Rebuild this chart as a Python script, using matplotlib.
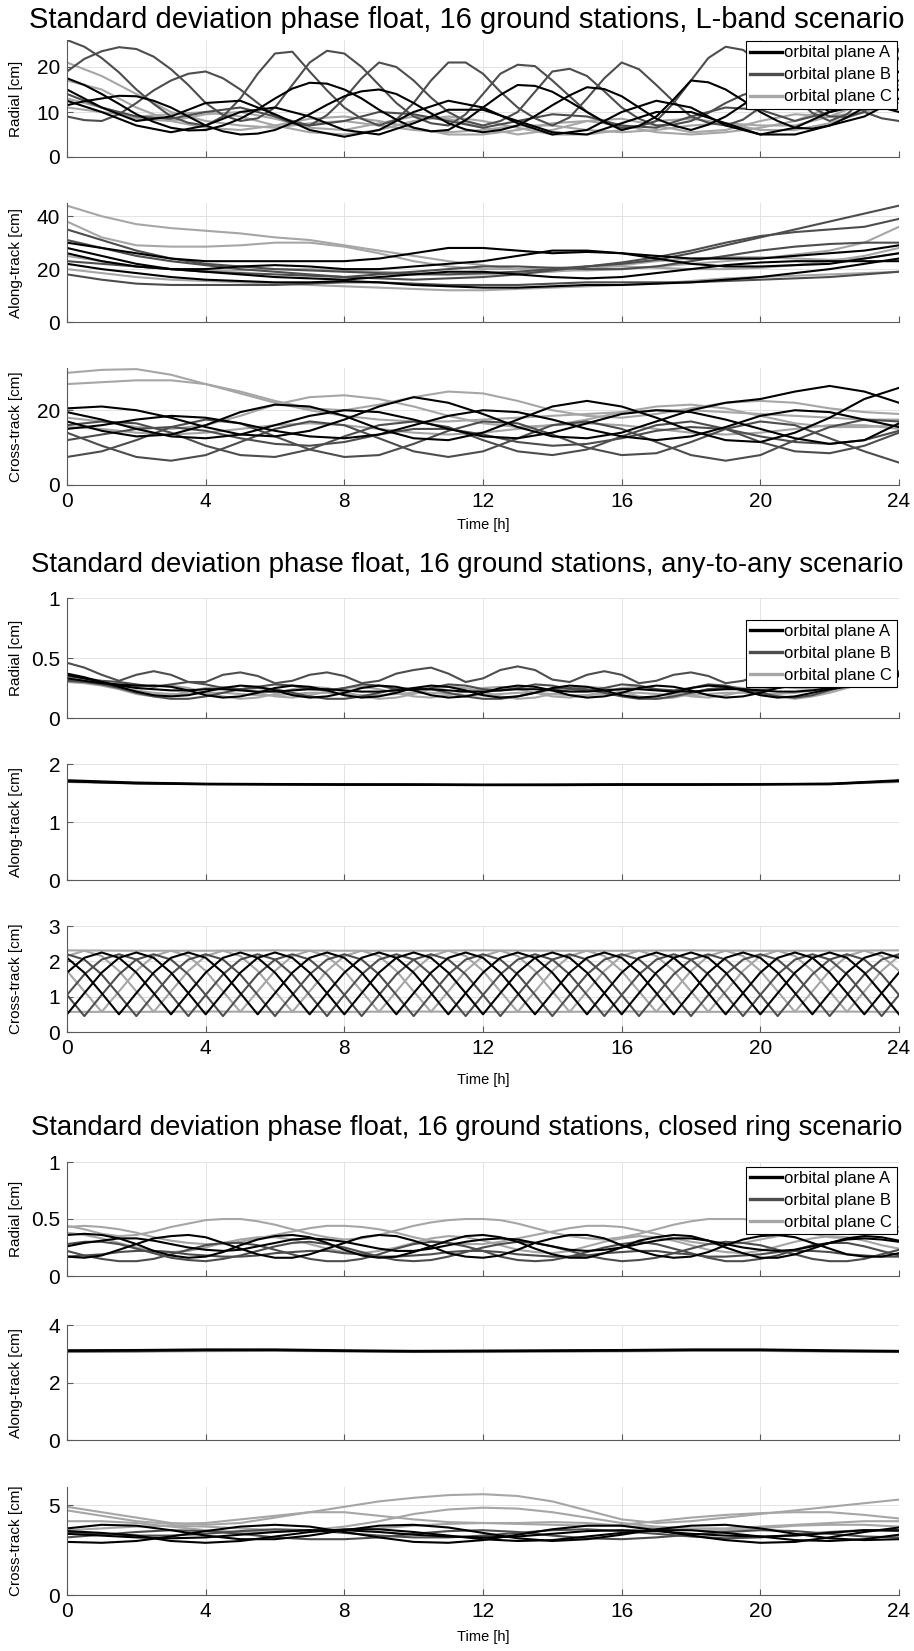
import numpy as np
import matplotlib
matplotlib.use("Agg")
import matplotlib.pyplot as plt
from matplotlib.lines import Line2D

plt.rcParams['font.family'] = ['Liberation Sans', 'DejaVu Sans']

# ---------------- data ----------------
TITLES = [
    "Standard deviation phase float, 16 ground stations, L-band scenario",
    "Standard deviation phase float, 16 ground stations, any-to-any scenario",
    "Standard deviation phase float, 16 ground stations, closed ring scenario",
]
PLANES = ["orbital plane A", "orbital plane B", "orbital plane C"]
XTICKS = [0, 4, 8, 12, 16, 20, 24]

# L-band (half-hour samples for the fast curves, hourly for the rest)
RAD_L_A = [
    [17.5,16,14,11.8,9.5,7.8,6.5,5.9, 6,7,8.5,10.6,13,15.2,16.5,16.3,
     15,13,10.5,8.3,6.5,5.7,6,8.2, 11,13.8,16,15.8,14.5,12.3,10,7.8,
     6,6.9,9,12.8,17,16.6,15,12.6, 10,8,6.5,6.3,7,8.8,11,13.2, 15],
    [11.5,12.4,13,13.6,13.5,12.5,11,9, 7,5.7,5,5.2,6,7.6,9.5,11.6,
     13.5,14.6,15,14,12,9.7,7.5,6.1, 5.5,6,7,9.1,11.5,13.7,15.5,15.1,
     13.5,11,8.5,7,6,7.2,9,11.6, 14,14.8,14.5,12.5,10,10.8,13,16, 19],
    [15,11,8,9,12,12.5,9.5,6,4.5,6,10,12.5,11,7.5,5,6,10,12.5,11,7,5,6.5,10,12,10],
    [12.5,10,7,5.5,7,10,11,9,6,5,7.5,10.5,10.5,8,5.5,5,7.5,10,10,7.5,5,5,7,9,13],
]
RAD_L_B = [
    [19,21.8,23.5,24.4,24,22.3,19.5,16, 12,9.3,8,8.6,11,16,21,23.6,
     23,20,16,12,9,7.5,7,9.5, 14,18.5,20.5,20.2,17,13.5,10,7.6,
     6.5,6.8,8,12,17,22,24.5,23.8, 21,17,13,9.8,8,9.5,13,17.5, 22],
    [26,24.5,22,18.8,15,11.8,9,7.6, 7,9,13,18.5,23,23.4,19,14.8,
     11,8.5,7,8.3,12,17,21,21, 18.5,14.5,11,8.6,7,8.8,13,17.5,
     21,19.5,16,12.3,9,7.6,7,8.3, 11,16.5,21.5,21,18,14,10,8.6, 8],
    [9,8.2,8,9.5,12,14.8,17,18.5, 19,17.5,15,12,9,7.5,7,9.3,
     13,17.5,21,20,17,13.2,10,8, 7,8,10,14.5,19,19.6,18,14.6,
     11,8.5,7,7.2,8,9.8,12,13.8, 15,14.6,13,11,9,8.9,10,15.5, 24],
    [14,11,9,8.5,10,11,9,7,8,10,9.5,8,6.5,8,9.5,9,7,6.5,9,11,10.5,8,10,13,17],
]
RAD_L_C = [
    [21,18,14,10,8,7,6.5,7.5,8,7,6,5.5,6,7,7,6,5.5,6,7,7.5,7,7,9,12,16],
    [13,11,8.5,8,9.5,10,8.5,6.5,6,7.5,9,8.5,6.5,5,6,8,8.5,7,5.5,6,8,9.5,9,10,13],
    [17,15,11,8,6.5,6,7,8.5,9,8,6.5,5,5,6,7.5,8,7,5.5,5,5.5,6.5,8,11,14,15],
    [11,10,9,9.5,10,9,7,5.5,5,6,8,9,8,6.5,5,5,6,8,8.5,7.5,6,6,7.5,10,12],
]
ALONG_L_A = [
    [30,28,26,24,23,23,23,23,23,24,26,28,28,27,26,26.5,26,25,24,24,24,25,26,27,29],
    [26,23,21,20,20,21,21.5,21,20,20,21,22,23,25,27,27,26,24,22,21,21,21.5,22,24,26],
    [22,20,18.5,17,16,15.5,15,15,15.5,15,14,13.5,13,13,13.5,14,14,14.5,15,16,17,18.5,20,22,24],
    [28,25,22,20,19,18,17,16.5,16,17,18,19,19,18,17,16.5,17,18.5,20,21.5,22.5,23,23,23,23],
]
ALONG_L_B = [
    [35,31,27,24,22,21,20,19.5,19,18.5,18,18,18.5,19,20,21,22,23.5,26,29,32,35,38,41,44],
    [31,28,25,23,21.5,20,19,18,17,16.5,16,16.5,17,18,19.5,21,22.5,24.5,27,30,32.5,34,35,36,39],
    [18,16,14.5,14,14,14,14,14.5,15,15,14.5,14,14,14,14.5,15,15,15,15,15.5,16,16.5,17,18,19],
    [23,22,21,20,19,18.5,18,17.5,17,18,19,20,21,21,20.5,20,20,21,23,25,27,28.5,29.5,30,30],
]
ALONG_L_C = [
    [44,40,37,35.5,34.5,33.5,32,31,29,27,25,23,21.5,20,19.5,19.5,20,21,22,23,24,25.5,27,30,36],
    [38,32,29,28.5,28.5,29,30,30,28.5,26,23,21,20,20,20.5,21,21,20.5,20,20,20.5,21.5,23,25,28],
    [20,18.5,17,16,15.5,15,14.5,14,13.5,13,12.5,12,12,12.5,13,13.5,14,14.5,15.5,16.5,17,17.5,18,18.5,19],
    [25,23,21,20,19.5,19.5,20,20,19.5,19,18.5,18,18,18.5,19,20,21.5,23,24,24.5,24.5,24,23.5,24,26],
]
CROSS_L_A = [
    [20.5,21,20,18,15.5,13.5,13,14.5,17.5,21,23.5,22,19,15.5,13,12.5,14,17,20,22,23,25,26.5,25,22],
    [17,14.5,13,13.5,16,19.5,21.5,21,18.5,15,12.5,12,14,17.5,21,22.5,21,18,14.5,12,11.5,14,18,23,26],
    [15,16,17.5,18.5,18,16.5,14.5,13,12.5,13.5,16,18.5,20,19.5,17.5,15,13,12,13,15.5,18.5,20,19.5,17.5,15.5],
    [19.5,17.5,15,13,12.5,13.5,16,18.5,20,19.5,17.5,15,13,12.5,14,16.5,19,20,19.5,17.5,15,12.5,11,12,16.5],
]
CROSS_L_B = [
    [7.5,9,12,15.5,17.5,16.5,13,9.5,7.5,8,11,14.5,17,16.5,13.5,10,8,8.5,11.5,15,17,16,12.5,9,6],
    [14,10.5,7.5,6.5,8,11.5,15,17,16,12.5,9,7.5,9,12.5,16,17,15,11.5,8,6.5,8,12,15.5,17.5,17],
    [16,17,16.5,14,10.5,8,7.5,9.5,13,16,17,15.5,12,9,8,9.5,13,16,17,15,11.5,9,8.5,10.5,14],
    [12,13.5,15,15.5,14.5,12.5,11,10.5,11.5,13.5,15,15,13.5,11.5,10.5,11,12.5,14.5,15.5,15,13,11.5,11,12,14.5],
]
CROSS_L_C = [
    [30,30.8,31,29.5,27,24.5,22,20,18.5,17.5,17,17,17.5,18,18.5,19,19.5,20,20,19.5,19,18.5,18,17.5,17.5],
    [27,27.5,28,28,27,25,22.5,20.5,20,21.5,23.5,25,24.5,22.5,20,18.5,18,19,20.5,22,22.5,22,20.5,19.5,19],
    [18,17,15.5,15,16,18.5,21.5,23.5,24,23,21,18.5,16.5,15.5,16,17.5,19.5,21,21.5,20.5,18.5,16.5,15.5,15.5,16],
    [15.5,15,14,13.5,14,15,16,16.5,16,15,14,13.5,14,15,16,16.5,16,15,14,13.5,14,15,16,16,15],
]

# any-to-any, half-hour samples (along-track: 2 h samples)
RAD_AA_A = [
    [0.37,0.34,0.30,0.26,0.22,0.19,0.18,0.19, 0.22,0.25,0.27,0.26,0.23,0.19,0.17,0.18,
     0.21,0.25,0.27,0.26,0.23,0.19,0.17,0.18, 0.21,0.25,0.27,0.26,0.23,0.19,0.17,0.18,
     0.21,0.25,0.27,0.26,0.23,0.19,0.17,0.18, 0.21,0.25,0.27,0.27,0.26,0.26,0.28,0.32, 0.37],
    [0.33,0.31,0.29,0.28,0.27,0.27,0.26,0.23, 0.19,0.17,0.18,0.21,0.25,0.27,0.26,0.23,
     0.19,0.17,0.18,0.21,0.25,0.27,0.26,0.23, 0.19,0.17,0.18,0.21,0.25,0.27,0.26,0.23,
     0.19,0.17,0.18,0.21,0.25,0.27,0.26,0.23, 0.19,0.17,0.18,0.21,0.24,0.26,0.29,0.32, 0.35],
    [0.36,0.33,0.30,0.27,0.25,0.24,0.23,0.23, 0.24,0.24,0.23,0.22,0.22,0.23,0.24,0.24,
     0.23,0.22,0.22,0.23,0.24,0.24,0.23,0.22, 0.22,0.23,0.24,0.24,0.23,0.22,0.22,0.23,
     0.24,0.24,0.23,0.22,0.22,0.23,0.24,0.24, 0.23,0.22,0.22,0.23,0.25,0.27,0.30,0.33, 0.36],
]
RAD_AA_B = [
    [0.46,0.42,0.36,0.31,0.36,0.39,0.36,0.30, 0.30,0.36,0.38,0.35,0.29,0.31,0.36,0.38,
     0.35,0.29,0.31,0.37,0.40,0.42,0.37,0.30, 0.33,0.40,0.43,0.40,0.32,0.30,0.36,0.39,
     0.36,0.29,0.31,0.36,0.38,0.35,0.29,0.31, 0.36,0.38,0.35,0.29,0.32,0.37,0.38,0.35, 0.38],
    [0.31,0.30,0.28,0.25,0.21,0.18,0.16,0.16, 0.18,0.21,0.24,0.25,0.24,0.21,0.18,0.16,
     0.16,0.18,0.21,0.24,0.25,0.24,0.21,0.18, 0.16,0.16,0.18,0.21,0.24,0.25,0.24,0.21,
     0.18,0.16,0.16,0.18,0.21,0.24,0.25,0.24, 0.21,0.18,0.17,0.19,0.23,0.27,0.31,0.35, 0.39],
    [0.35,0.33,0.31,0.30,0.28,0.26,0.28,0.30, 0.28,0.25,0.24,0.26,0.28,0.27,0.24,0.23,
     0.25,0.28,0.27,0.24,0.23,0.25,0.28,0.27, 0.24,0.23,0.25,0.28,0.27,0.24,0.23,0.25,
     0.28,0.27,0.24,0.23,0.25,0.28,0.27,0.24, 0.23,0.25,0.28,0.27,0.26,0.28,0.31,0.34, 0.37],
]
RAD_AA_C = [
    [0.32,0.31,0.29,0.27,0.26,0.27,0.27,0.25, 0.21,0.18,0.16,0.17,0.20,0.24,0.26,0.25,
     0.22,0.18,0.16,0.17,0.20,0.24,0.26,0.25, 0.22,0.18,0.16,0.17,0.20,0.24,0.26,0.25,
     0.22,0.18,0.16,0.17,0.20,0.24,0.26,0.25, 0.22,0.18,0.16,0.18,0.21,0.25,0.29,0.32, 0.35],
    [0.30,0.29,0.27,0.24,0.20,0.18,0.19,0.22, 0.25,0.26,0.24,0.21,0.18,0.17,0.19,0.22,
     0.25,0.26,0.24,0.21,0.18,0.17,0.19,0.22, 0.25,0.26,0.24,0.21,0.18,0.17,0.19,0.22,
     0.25,0.26,0.24,0.21,0.18,0.17,0.19,0.22, 0.25,0.26,0.25,0.24,0.25,0.27,0.30,0.33, 0.36],
    [0.34,0.31,0.28,0.25,0.23,0.21,0.20,0.20, 0.21,0.21,0.20,0.19,0.19,0.20,0.21,0.21,
     0.20,0.19,0.19,0.20,0.21,0.21,0.20,0.19, 0.19,0.20,0.21,0.21,0.20,0.19,0.19,0.20,
     0.21,0.21,0.20,0.19,0.19,0.20,0.21,0.21, 0.20,0.20,0.21,0.23,0.25,0.28,0.31,0.34, 0.37],
]
ALONG_AA_A = [[1.72,1.68,1.66,1.655,1.65,1.65,1.645,1.645,1.65,1.65,1.65,1.66,1.72],
              [1.70,1.665,1.65,1.645,1.64,1.64,1.635,1.635,1.64,1.64,1.645,1.65,1.71]]
ALONG_AA_B = [[1.70,1.67,1.655,1.65,1.65,1.645,1.64,1.645,1.65,1.65,1.655,1.66,1.70]]
ALONG_AA_C = [[1.69,1.665,1.65,1.645,1.645,1.64,1.64,1.64,1.645,1.645,1.65,1.655,1.69]]
CROSS_AA_A = [
    [0.50,1.10,1.68,2.10,2.25,2.10,1.68,1.10, 0.50,1.10,1.68,2.10,2.25,2.10,1.68,1.10,
     0.50,1.10,1.68,2.10,2.25,2.10,1.68,1.10, 0.50,1.10,1.68,2.10,2.25,2.10,1.68,1.10,
     0.50,1.10,1.68,2.10,2.25,2.10,1.68,1.10, 0.50,1.10,1.68,2.10,2.25,2.10,1.68,1.10, 0.50],
    [1.68,2.10,2.25,2.10,1.68,1.10,0.50,1.10, 1.68,2.10,2.25,2.10,1.68,1.10,0.50,1.10,
     1.68,2.10,2.25,2.10,1.68,1.10,0.50,1.10, 1.68,2.10,2.25,2.10,1.68,1.10,0.50,1.10,
     1.68,2.10,2.25,2.10,1.68,1.10,0.50,1.10, 1.68,2.10,2.25,2.10,1.68,1.10,0.50,1.10, 1.68],
    [2.10,1.68,1.10,0.50,1.10,1.68,2.10,2.25, 2.10,1.68,1.10,0.50,1.10,1.68,2.10,2.25,
     2.10,1.68,1.10,0.50,1.10,1.68,2.10,2.25, 2.10,1.68,1.10,0.50,1.10,1.68,2.10,2.25,
     2.10,1.68,1.10,0.50,1.10,1.68,2.10,2.25, 2.10,1.68,1.10,0.50,1.10,1.68,2.10,2.25, 2.10],
]
CROSS_AA_B = [
    [2.20,2.05,1.63,1.05,0.45,1.05,1.63,2.05, 2.20,2.05,1.63,1.05,0.45,1.05,1.63,2.05,
     2.20,2.05,1.63,1.05,0.45,1.05,1.63,2.05, 2.20,2.05,1.63,1.05,0.45,1.05,1.63,2.05,
     2.20,2.05,1.63,1.05,0.45,1.05,1.63,2.05, 2.20,2.05,1.63,1.05,0.45,1.05,1.63,2.05, 2.20],
    [1.05,1.63,2.05,2.20,2.05,1.63,1.05,0.45, 1.05,1.63,2.05,2.20,2.05,1.63,1.05,0.45,
     1.05,1.63,2.05,2.20,2.05,1.63,1.05,0.45, 1.05,1.63,2.05,2.20,2.05,1.63,1.05,0.45,
     1.05,1.63,2.05,2.20,2.05,1.63,1.05,0.45, 1.05,1.63,2.05,2.20,2.05,1.63,1.05,0.45, 1.05],
    [1.05,0.45,1.05,1.63,2.05,2.20,2.05,1.63, 1.05,0.45,1.05,1.63,2.05,2.20,2.05,1.63,
     1.05,0.45,1.05,1.63,2.05,2.20,2.05,1.63, 1.05,0.45,1.05,1.63,2.05,2.20,2.05,1.63,
     1.05,0.45,1.05,1.63,2.05,2.20,2.05,1.63, 1.05,0.45,1.05,1.63,2.05,2.20,2.05,1.63, 1.05],
]
CROSS_AA_C = [
    [2.15,2.30,2.15,1.73,1.15,0.57,1.15,1.73, 2.15,2.30,2.15,1.73,1.15,0.57,1.15,1.73,
     2.15,2.30,2.15,1.73,1.15,0.57,1.15,1.73, 2.15,2.30,2.15,1.73,1.15,0.57,1.15,1.73,
     2.15,2.30,2.15,1.73,1.15,0.57,1.15,1.73, 2.15,2.30,2.15,1.73,1.15,0.57,1.15,1.73, 2.15],
    [1.73,1.15,0.57,1.15,1.73,2.15,2.30,2.15, 1.73,1.15,0.57,1.15,1.73,2.15,2.30,2.15,
     1.73,1.15,0.57,1.15,1.73,2.15,2.30,2.15, 1.73,1.15,0.57,1.15,1.73,2.15,2.30,2.15,
     1.73,1.15,0.57,1.15,1.73,2.15,2.30,2.15, 1.73,1.15,0.57,1.15,1.73,2.15,2.30,2.15, 1.73],
    [2.31,2.30,2.30,2.31,2.30,2.30,2.31,2.30,2.30,2.31,2.30,2.30,2.31],
    [0.57,0.57,0.58,0.57,0.57,0.58,0.57,0.57,0.58,0.57,0.57,0.58,0.57],
]

# closed ring, half-hour samples (along-track 2 h, cross-track hourly)
RAD_CR_A = [
    [0.36,0.37,0.36,0.33,0.28,0.22,0.18,0.16, 0.17,0.21,0.27,0.32,0.35,0.36,0.34,0.29,
     0.23,0.18,0.16,0.17,0.21,0.26,0.31,0.35, 0.36,0.34,0.30,0.24,0.19,0.16,0.16,0.20,
     0.25,0.31,0.34,0.36,0.35,0.31,0.25,0.20, 0.16,0.16,0.19,0.24,0.29,0.33,0.35,0.34, 0.31],
    [0.17,0.16,0.18,0.23,0.28,0.33,0.35,0.36, 0.34,0.29,0.24,0.19,0.16,0.16,0.19,0.24,
     0.29,0.34,0.36,0.35,0.31,0.26,0.20,0.17, 0.16,0.18,0.23,0.29,0.33,0.36,0.36,0.33,
     0.27,0.22,0.18,0.16,0.17,0.21,0.27,0.32, 0.35,0.36,0.34,0.29,0.24,0.19,0.17,0.17, 0.20],
    [0.26,0.29,0.31,0.33,0.33,0.31,0.28,0.25, 0.23,0.22,0.23,0.26,0.29,0.32,0.33,0.32,
     0.30,0.27,0.24,0.22,0.22,0.24,0.27,0.30, 0.32,0.33,0.32,0.29,0.26,0.23,0.22,0.23,
     0.25,0.28,0.31,0.33,0.33,0.31,0.28,0.25, 0.23,0.22,0.23,0.26,0.29,0.32,0.33,0.32, 0.30],
]
RAD_CR_B = [
    [0.22,0.18,0.15,0.13,0.13,0.15,0.19,0.23, 0.27,0.29,0.29,0.27,0.23,0.19,0.15,0.13,
     0.13,0.15,0.19,0.24,0.28,0.30,0.29,0.26, 0.22,0.17,0.14,0.13,0.14,0.17,0.21,0.25,
     0.28,0.30,0.28,0.24,0.20,0.16,0.13,0.13, 0.15,0.18,0.23,0.27,0.29,0.29,0.26,0.22, 0.18],
    [0.28,0.30,0.30,0.28,0.24,0.20,0.16,0.14, 0.13,0.15,0.18,0.22,0.26,0.29,0.30,0.28,
     0.25,0.21,0.17,0.14,0.13,0.14,0.17,0.21, 0.25,0.28,0.30,0.29,0.26,0.22,0.18,0.15,
     0.13,0.14,0.16,0.20,0.24,0.28,0.30,0.29, 0.27,0.23,0.19,0.15,0.13,0.13,0.15,0.19, 0.23],
    [0.17,0.18,0.19,0.21,0.22,0.22,0.21,0.19, 0.18,0.17,0.17,0.18,0.20,0.21,0.22,0.22,
     0.20,0.19,0.17,0.17,0.18,0.19,0.21,0.22, 0.22,0.21,0.19,0.18,0.17,0.17,0.18,0.20,
     0.21,0.22,0.22,0.20,0.19,0.17,0.17,0.18, 0.19,0.21,0.22,0.22,0.21,0.19,0.18,0.17, 0.17],
]
RAD_CR_C = [
    [0.44,0.41,0.37,0.35,0.36,0.39,0.43,0.46, 0.49,0.50,0.50,0.48,0.45,0.41,0.37,0.34,
     0.32,0.33,0.36,0.40,0.44,0.47,0.49,0.50, 0.50,0.49,0.46,0.42,0.38,0.35,0.33,0.32,
     0.34,0.37,0.41,0.45,0.48,0.50,0.50,0.50, 0.48,0.45,0.41,0.37,0.34,0.33,0.35,0.39, 0.43],
    [0.43,0.44,0.43,0.41,0.38,0.34,0.31,0.29, 0.28,0.28,0.30,0.33,0.36,0.39,0.42,0.44,
     0.44,0.43,0.41,0.38,0.34,0.31,0.29,0.28, 0.28,0.30,0.33,0.36,0.39,0.42,0.44,0.44,
     0.43,0.40,0.37,0.33,0.30,0.28,0.28,0.29, 0.32,0.35,0.38,0.41,0.43,0.44,0.44,0.42, 0.39],
    [0.38,0.36,0.33,0.29,0.25,0.22,0.21,0.22, 0.25,0.29,0.32,0.34,0.34,0.32,0.28,0.24,
     0.21,0.20,0.22,0.25,0.29,0.33,0.35,0.34, 0.31,0.27,0.23,0.21,0.20,0.22,0.26,0.30,
     0.33,0.35,0.34,0.31,0.27,0.23,0.21,0.20, 0.22,0.26,0.30,0.33,0.35,0.34,0.31,0.27, 0.24],
]
ALONG_CR_A = [[3.10,3.11,3.13,3.13,3.10,3.08,3.09,3.10,3.11,3.13,3.13,3.10,3.08],
              [3.12,3.13,3.15,3.15,3.12,3.10,3.11,3.12,3.13,3.15,3.15,3.12,3.10]]
ALONG_CR_B = [[3.08,3.09,3.11,3.12,3.09,3.07,3.08,3.09,3.10,3.12,3.12,3.09,3.07]]
ALONG_CR_C = [[3.06,3.07,3.09,3.10,3.08,3.06,3.06,3.07,3.08,3.10,3.10,3.07,3.06]]
CROSS_CR_A = [
    [3.7,3.9,3.85,3.6,3.3,3.1,3.1,3.3,3.6,3.85,3.9,3.75,3.45,3.15,3.0,3.1,3.35,3.65,3.85,3.9,3.7,3.4,3.15,3.05,3.1],
    [2.95,2.9,3.0,3.25,3.55,3.8,3.9,3.8,3.5,3.2,2.95,2.9,3.05,3.35,3.65,3.85,3.85,3.6,3.3,3.05,2.9,2.95,3.2,3.5,3.75],
    [3.4,3.3,3.2,3.15,3.2,3.35,3.5,3.6,3.6,3.5,3.35,3.25,3.2,3.25,3.4,3.55,3.6,3.55,3.4,3.3,3.25,3.3,3.45,3.6,3.6],
    [3.55,3.45,3.3,3.0,2.9,3.0,3.25,3.5,3.65,3.65,3.5,3.3,3.1,3.0,3.05,3.25,3.45,3.6,3.6,3.45,3.25,3.05,3.0,3.1,3.35],
]
CROSS_CR_B = [
    [3.2,3.35,3.5,3.6,3.55,3.4,3.2,3.1,3.1,3.2,3.4,3.55,3.6,3.5,3.3,3.15,3.1,3.2,3.35,3.5,3.6,3.55,3.4,3.25,3.2],
    [3.5,3.4,3.3,3.3,3.4,3.55,3.65,3.6,3.45,3.3,3.2,3.2,3.3,3.45,3.6,3.65,3.55,3.4,3.25,3.15,3.2,3.35,3.5,3.6,3.55],
]
CROSS_CR_C = [
    [4.9,4.6,4.3,4.0,3.9,4.0,4.3,4.6,4.9,5.2,5.4,5.55,5.6,5.5,5.2,4.7,4.2,4.0,4.1,4.3,4.5,4.7,4.9,5.1,5.3],
    [4.7,4.4,4.1,3.95,4.0,4.2,4.4,4.6,4.6,4.4,4.2,4.05,4.0,3.95,3.9,3.85,3.9,4.1,4.3,4.45,4.55,4.6,4.6,4.45,4.25],
    [4.1,4.1,4.0,3.8,3.6,3.5,3.5,3.6,3.8,4.1,4.5,4.75,4.85,4.8,4.6,4.3,4.0,3.8,3.7,3.7,3.8,3.9,4.0,4.1,4.1],
    [3.6,3.7,3.8,3.85,3.8,3.7,3.6,3.55,3.6,3.7,3.85,3.95,4.0,4.0,4.05,4.0,3.85,3.7,3.6,3.6,3.7,3.85,3.9,3.9,3.8],
]

# ---------------- layout ----------------
W, H = 914, 1651
LEFT, RIGHT = 67, 899
COLORS = {"A": "#000000", "B": "#4d4d4d", "C": "#a6a6a6"}
SPINE = "#5a5a5a"
TITLE_SIZES = [21, 19.9, 19.8]

# (title y, [(top, bottom) per axes], xlabel y, legend top in axes fraction) in pixels
GROUPS = [
    (20, [(40, 157), (203, 322), (368, 485)], 525, 0.99),
    (565, [(598, 718), (764, 880), (926, 1032)], 1080, 0.82),
    (1128, [(1162, 1276), (1325, 1440), (1487, 1595)], 1637, 0.96),
]

PANELS = [
    [("Radial [cm]", 26, [0, 10, 20], ["0", "10", "20"], (RAD_L_A, RAD_L_B, RAD_L_C)),
     ("Along-track [cm]", 45, [0, 20, 40], ["0", "20", "40"], (ALONG_L_A, ALONG_L_B, ALONG_L_C)),
     ("Cross-track [cm]", 31.3, [0, 20], ["0", "20"], (CROSS_L_A, CROSS_L_B, CROSS_L_C))],
    [("Radial [cm]", 1, [0, 0.5, 1], ["0", "0.5", "1"], (RAD_AA_A, RAD_AA_B, RAD_AA_C)),
     ("Along-track [cm]", 2, [0, 1, 2], ["0", "1", "2"], (ALONG_AA_A, ALONG_AA_B, ALONG_AA_C)),
     ("Cross-track [cm]", 3, [0, 1, 2, 3], ["0", "1", "2", "3"], (CROSS_AA_A, CROSS_AA_B, CROSS_AA_C))],
    [("Radial [cm]", 1, [0, 0.5, 1], ["0", "0.5", "1"], (RAD_CR_A, RAD_CR_B, RAD_CR_C)),
     ("Along-track [cm]", 4, [0, 2, 4], ["0", "2", "4"], (ALONG_CR_A, ALONG_CR_B, ALONG_CR_C)),
     ("Cross-track [cm]", 6, [0, 5], ["0", "5"], (CROSS_CR_A, CROSS_CR_B, CROSS_CR_C))],
]


def add_px_axes(fig, top, bottom):
    return fig.add_axes([LEFT / W, 1 - bottom / H, (RIGHT - LEFT) / W, (bottom - top) / H])


def style_axes(ax, ymax, yticks, ylabels, ylabel, show_x):
    ax.set_xlim(0, 24)
    ax.set_ylim(0, ymax)
    ax.set_xticks(XTICKS)
    ax.set_yticks(yticks)
    ax.set_yticklabels(ylabels)
    if show_x:
        ax.set_xticklabels([str(x) for x in XTICKS])
    else:
        ax.set_xticklabels([])
    ax.grid(True, color="#e3e3e3", linewidth=0.7)
    ax.set_axisbelow(True)
    for s in ("top", "right"):
        ax.spines[s].set_visible(False)
    for s in ("left", "bottom"):
        ax.spines[s].set_color(SPINE)
        ax.spines[s].set_linewidth(0.8)
    ax.tick_params(direction="in", length=4, width=0.8, color=SPINE,
                   labelsize=15, pad=5, labelcolor="black")
    ax.set_ylabel(ylabel, fontsize=11)
    ax.yaxis.set_label_coords(-44 / (RIGHT - LEFT), 0.5)


fig = plt.figure(figsize=(W / 100, H / 100), dpi=100)

for gi, (title_y, boxes, xlabel_y, leg_top) in enumerate(GROUPS):
    fig.text(467 / W, 1 - title_y / H, TITLES[gi], ha="center", va="center",
             fontsize=TITLE_SIZES[gi])
    for pi, (top, bottom) in enumerate(boxes):
        ylabel, ymax, yticks, ylabels, series = PANELS[gi][pi]
        ax = add_px_axes(fig, top, bottom)
        # draw light planes first so black ends on top
        for key, curves in zip(("C", "B", "A"), series[::-1]):
            for y in curves:
                t = np.linspace(0, 24, len(y))
                ax.plot(t, y, color=COLORS[key], linewidth=1.5, solid_joinstyle="round")
        style_axes(ax, ymax, yticks, ylabels, ylabel, pi == 2)
        if pi == 0:
            handles = [Line2D([], [], color=COLORS[k], linewidth=2.4) for k in "ABC"]
            leg = ax.legend(handles, PLANES, loc="upper right", bbox_to_anchor=(0.997, leg_top),
                            fontsize=12, frameon=True, fancybox=False, framealpha=1,
                            edgecolor="black", borderpad=0.25, handlelength=1.9,
                            handletextpad=0.15, labelspacing=0.42, borderaxespad=0.0)
            leg.get_frame().set_linewidth(0.8)
    fig.text((LEFT + RIGHT) / 2 / W, 1 - xlabel_y / H, "Time [h]",
             ha="center", va="center", fontsize=10.5)

fig.savefig("out.png", dpi=100)
